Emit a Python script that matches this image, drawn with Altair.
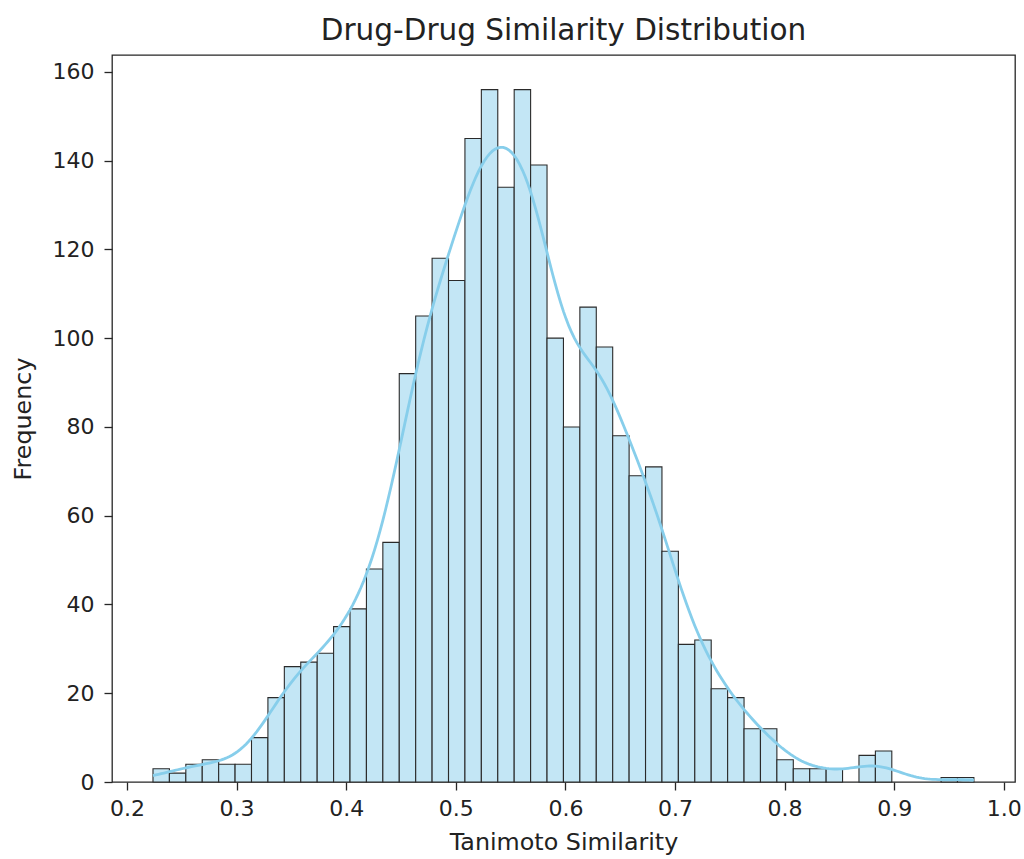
import altair as alt
import numpy as np
import pandas as pd

# Histogram counts (50 equal-width bins)
counts = [3, 2, 4, 5, 4, 4, 10, 19, 26, 27,
          29, 35, 39, 48, 54, 92, 105, 118, 113, 145,
          156, 134, 156, 139, 100, 80, 107, 98, 78, 69,
          71, 52, 31, 32, 21, 19, 12, 12, 5, 3,
          3, 3, 0, 6, 7, 0, 0, 0, 1, 1]
data_min = 0.2237
data_max = 0.9727
x_ticks = [0.2, 0.3, 0.4, 0.5, 0.6, 0.7, 0.8, 0.9, 1.0]
y_ticks = [0, 20, 40, 60, 80, 100, 120, 140, 160]

edges = np.linspace(data_min, data_max, len(counts) + 1)
bin_width = float(edges[1] - edges[0])
hist = pd.DataFrame({"start": edges[:-1], "end": edges[1:], "count": counts})
hist = hist[hist["count"] > 0]

centers = (edges[:-1] + edges[1:]) / 2
samples = np.repeat(centers, counts)
bw = float(np.std(samples, ddof=1) * len(samples) ** (-0.2))
samp_df = pd.DataFrame({"sim": samples})

x_scale = alt.Scale(domain=[0.1863, 1.0102], nice=False, zero=False)
y_scale = alt.Scale(domain=[0, 163.8], nice=False)

font = "DejaVu Sans"

bars = alt.Chart(hist).mark_bar(
    fill="#C3E6F5", stroke="#2a2a2a", strokeWidth=1.1, opacity=1
).encode(
    x=alt.X("start:Q", scale=x_scale,
            axis=alt.Axis(values=x_ticks, format=".1f", title="Tanimoto Similarity")),
    x2="end:Q",
    y=alt.Y("count:Q", scale=y_scale,
            axis=alt.Axis(values=y_ticks, format="d", title="Frequency")),
    y2=alt.Y2(datum=0),
)

kde = alt.Chart(samp_df).transform_density(
    "sim", as_=["sim", "density"], bandwidth=bw,
    extent=[data_min, data_max], counts=True, steps=300
).transform_calculate(
    freq=f"datum.density * {bin_width}"
).mark_line(color="#87CEEB", strokeWidth=2.8).encode(
    x=alt.X("sim:Q", scale=x_scale),
    y=alt.Y("freq:Q", scale=y_scale),
)

chart = alt.layer(bars, kde).properties(
    width=903, height=727,
    title=alt.TitleParams("Drug-Drug Similarity Distribution", fontSize=29.5,
                          font=font, fontWeight="normal", color="#222222", offset=9),
    autosize=alt.AutoSizeParams(type="none"),
    padding={"left": 112, "top": 55, "right": 9, "bottom": 77},
).configure_view(
    stroke="#262626", strokeWidth=1.3
).configure_axis(
    grid=False, domain=False, labelFont=font, titleFont=font,
    labelFontSize=22, titleFontSize=23.8, labelColor="#222222", titleColor="#222222",
    titleFontWeight="normal", tickColor="#262626", tickSize=8, tickWidth=1.3,
).configure_axisX(
    labelPadding=8, titlePadding=11,
).configure_axisY(
    labelPadding=10, titlePadding=17,
)

chart.save("out.html", embed_options={"renderer": "svg", "actions": False})
